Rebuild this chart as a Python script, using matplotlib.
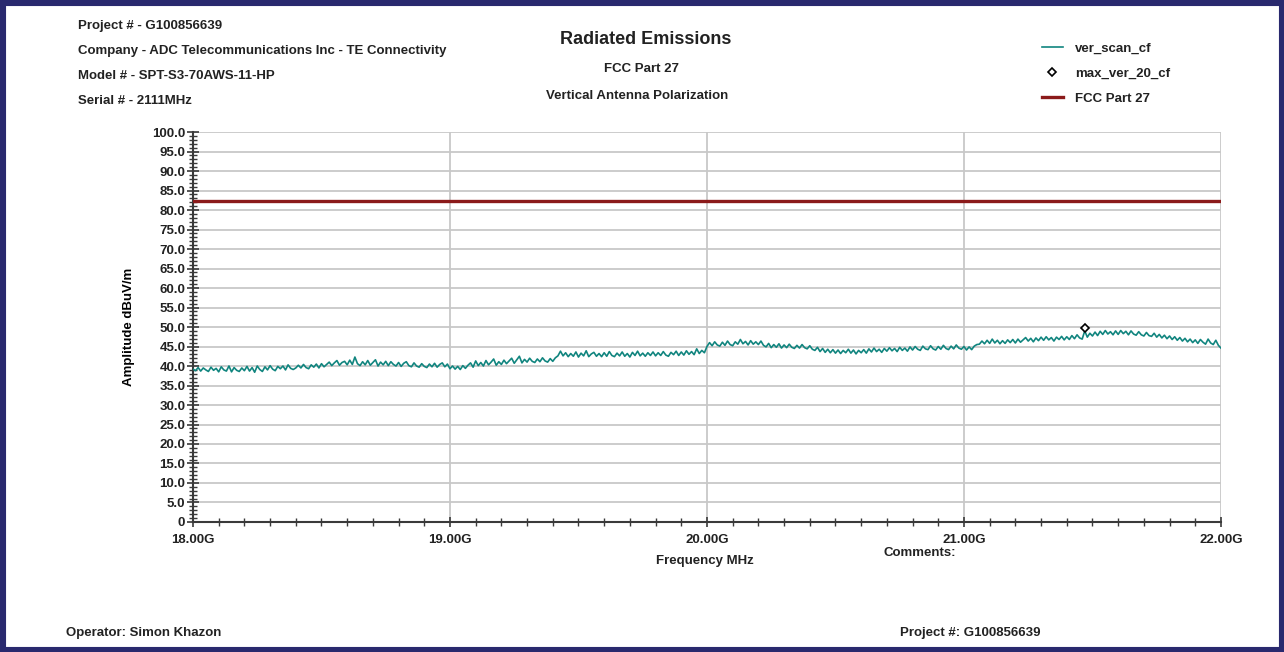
import numpy as np
import matplotlib
matplotlib.use("Agg")
import matplotlib.pyplot as plt
from matplotlib.patches import Rectangle
from matplotlib.ticker import MultipleLocator, FuncFormatter

# sweep 18 - 22 GHz, one reading every 10 MHz
freq_start = 18.0
freq_stop = 22.0

ver_scan_cf = [
    39.2, 38.8, 39.6, 38.7, 39.5, 39.0, 38.6, 39.7, 38.9, 39.4, 38.5, 39.8, 39.0, 38.7, 40.0, 38.5, 39.6, 38.9, 38.6, 39.5,
    38.8, 39.9, 38.7, 39.6, 38.4, 40.0, 39.1, 38.6, 39.8, 39.0, 40.1, 39.2, 38.8, 39.9, 39.3, 40.0, 39.0, 40.3, 39.4, 39.1,
    39.5, 40.2, 39.5, 40.4, 39.6, 39.3, 40.3, 39.7, 40.5, 39.5, 40.6, 39.8, 40.4, 41.0, 40.1, 40.8, 41.4, 40.2, 40.9, 41.2,
    40.3, 41.5, 40.4, 42.3, 40.6, 40.1, 41.1, 40.3, 41.4, 40.2, 40.9, 41.6, 40.0, 41.0, 40.3, 41.2, 40.1, 41.1, 40.4, 40.0,
    40.9, 39.9, 40.7, 41.1, 40.1, 39.8, 40.8, 40.0, 39.7, 40.6, 39.9, 39.6, 40.5, 39.8, 40.7, 39.7, 40.4, 40.8, 39.8, 40.5,
    39.3, 40.0, 39.2, 39.9, 39.1, 40.1, 39.4, 40.2, 40.8, 39.7, 41.3, 40.1, 40.9, 40.0, 41.4, 40.3, 41.0, 41.8, 40.2, 41.1,
    40.4, 41.5, 40.6, 41.3, 42.0, 40.7, 41.6, 42.5, 40.8, 41.7, 41.0, 42.0, 41.2, 40.9, 41.8, 41.1, 42.1, 41.3, 41.0, 41.9,
    41.2, 42.1, 42.6, 43.8, 42.6, 43.4, 42.4, 43.2, 42.5, 43.6, 42.3, 43.3, 42.6, 43.9, 42.4, 43.1, 43.5, 42.5, 43.2, 42.4,
    43.4, 42.5, 43.7, 42.7, 42.4, 43.3, 42.6, 43.6, 42.5, 43.2, 42.3, 43.5, 42.7, 43.8, 42.6, 43.3, 42.5, 43.4, 42.7, 43.6,
    42.6, 43.4, 42.7, 43.7, 42.8, 42.5, 43.5, 42.9, 43.8, 42.7, 43.6, 42.8, 43.9, 43.0, 43.7, 42.9, 44.4, 43.2, 44.0, 43.4,
    45.0, 46.0, 45.2, 46.2, 45.4, 45.1, 46.1, 45.3, 46.4, 45.5, 45.2, 46.2, 45.6, 46.8, 45.7, 46.3, 45.4, 46.5, 45.6, 46.2,
    45.5, 46.4, 45.3, 44.9, 45.8, 44.7, 45.5, 44.8, 45.7, 44.6, 45.4, 44.7, 45.6, 44.8, 44.5, 45.3, 44.6, 45.5, 44.7, 44.4,
    45.2, 44.3, 44.0, 44.8, 43.7, 44.5, 43.5, 44.3, 43.4, 44.2, 43.3, 44.1, 43.2, 44.0, 43.4, 44.3, 43.3, 44.1, 43.1, 44.0,
    43.4, 44.2, 43.3, 44.4, 43.6, 44.6, 43.7, 44.3, 43.5, 44.5, 43.8, 44.7, 43.9, 44.5, 43.7, 44.8, 44.0, 44.6, 43.8, 44.9,
    44.1, 45.0, 44.3, 44.0, 45.1, 44.4, 44.2, 45.2, 44.4, 44.1, 45.0, 44.3, 45.3, 44.5, 44.2, 45.1, 44.4, 45.4, 44.6, 44.3,
    45.0, 44.1, 44.9, 44.2, 45.1, 45.5, 45.6, 46.4, 45.7, 46.6, 45.8, 46.9, 45.9, 46.6, 45.7, 46.5, 45.8, 46.7, 46.0, 46.8,
    45.9, 46.9, 46.1, 46.7, 47.3, 46.4, 47.1, 46.2, 47.2, 46.5, 47.4, 46.6, 47.5, 46.7, 47.3, 46.4, 47.4, 46.8, 47.6, 46.7,
    47.5, 46.8, 47.8, 47.0, 48.0, 47.2, 46.9, 49.0, 47.4, 48.4, 47.7, 48.7, 47.8, 48.9, 48.1, 49.1, 48.2, 48.8, 48.0, 49.0,
    48.1, 49.1, 48.3, 48.9, 48.0, 49.0, 48.2, 47.9, 48.8, 48.0, 47.7, 48.6, 47.8, 47.6, 48.4, 47.4, 48.1, 47.2, 47.9, 47.0,
    47.7, 46.8, 47.5, 46.6, 47.3, 46.4, 47.1, 46.2, 46.9, 46.0, 46.7, 45.8, 46.8, 46.1, 45.6, 46.9, 45.9, 45.5, 46.6, 45.3,
    44.6,
]

max_freq = [21.47]
max_ver_20_cf = [49.8]

fcc_limit = 82.2

header_lines = [
    "Project # - G100856639",
    "Company - ADC Telecommunications Inc - TE Connectivity",
    "Model # - SPT-S3-70AWS-11-HP",
    "Serial # - 2111MHz",
]

freq = np.linspace(freq_start, freq_stop, len(ver_scan_cf))

plt.rcParams["font.family"] = ["Liberation Sans", "DejaVu Sans"]
plt.rcParams["font.weight"] = "bold"

fig = plt.figure(figsize=(12.84, 6.52), dpi=100)
ax = fig.add_axes([0.1503, 0.1994, 0.8006, 0.5981])

teal = "#11857f"
darkred = "#8b1a1a"

ax.plot(freq, ver_scan_cf, color=teal, lw=1.2, label="ver_scan_cf", zorder=3)
ax.plot(max_freq, max_ver_20_cf, ls="none", marker="D", ms=4, mfc="white",
        mec="black", mew=1.2, label="max_ver_20_cf", zorder=4)
ax.axhline(fcc_limit, color=darkred, lw=2.4, label="FCC Part 27", zorder=3)

ax.set_xlim(freq_start, freq_stop)
ax.set_ylim(0, 100)
ax.xaxis.set_major_locator(MultipleLocator(1.0))
ax.xaxis.set_minor_locator(MultipleLocator(0.1))
ax.yaxis.set_major_locator(MultipleLocator(5))
ax.yaxis.set_minor_locator(MultipleLocator(1))
ax.xaxis.set_major_formatter(FuncFormatter(lambda v, p: "%.2fG" % v))
ax.yaxis.set_major_formatter(FuncFormatter(lambda v, p: "0" if v == 0 else "%.1f" % v))

ax.grid(True, which="major", color="#c8c8c8", lw=1.3, zorder=0)
for s in ["top", "right"]:
    ax.spines[s].set_visible(False)
for s in ["left", "bottom"]:
    ax.spines[s].set_color("#3a3a3a")
    ax.spines[s].set_linewidth(1.5)

ax.tick_params(axis="y", which="major", direction="inout", length=9, width=1.2,
               color="#3a3a3a", labelsize=9.5, pad=1)
ax.tick_params(axis="y", which="minor", direction="inout", length=6, width=1.0,
               color="#3a3a3a")
ax.tick_params(axis="x", which="major", direction="inout", length=7, width=1.2,
               color="#3a3a3a", labelsize=9.5, pad=5)
ax.tick_params(axis="x", which="minor", direction="inout", length=6, width=1.0,
               color="#3a3a3a")
for lab in ax.get_xticklabels() + ax.get_yticklabels():
    lab.set_fontweight("bold")
    lab.set_color("#222222")

ax.set_ylabel("Amplitude dBuV/m", fontsize=9.5, fontweight="bold", labelpad=12)
fig.text(705 / 1284, 1 - 561 / 652, "Frequency MHz", ha="center", va="center",
         fontsize=9.5, fontweight="bold", color="#222222")
fig.text(884 / 1284, 1 - 553 / 652, "Comments:", ha="left", va="center",
         fontsize=9.5, fontweight="bold", color="#222222")

# header block
for i, line in enumerate(header_lines):
    fig.text(78 / 1284, 1 - (26 + 25 * i) / 652, line, ha="left", va="center",
             fontsize=9.5, fontweight="bold", color="#222222")

fig.text(646 / 1284, 1 - 40 / 652, "Radiated Emissions", ha="center", va="center",
         fontsize=13, fontweight="bold", color="#222222")
fig.text(642 / 1284, 1 - 69 / 652, "FCC Part 27", ha="center", va="center",
         fontsize=9.5, fontweight="bold", color="#222222")
fig.text(637 / 1284, 1 - 96 / 652, "Vertical Antenna Polarization", ha="center",
         va="center", fontsize=9.5, fontweight="bold", color="#222222")

fig.text(66 / 1284, 1 - 633 / 652, "Operator: Simon Khazon", ha="left", va="center",
         fontsize=9.5, fontweight="bold", color="#222222")
fig.text(900 / 1284, 1 - 633 / 652, "Project #: G100856639", ha="left", va="center",
         fontsize=9.5, fontweight="bold", color="#222222")

leg = fig.legend(loc="upper left", bbox_to_anchor=(1030 / 1284, 1 - 31 / 652),
                 frameon=False, fontsize=9.5, handlelength=1.6, labelspacing=0.95,
                 handletextpad=0.9)
for t in leg.get_texts():
    t.set_fontweight("bold")
    t.set_color("#222222")

fig.patches.append(Rectangle((0, 0), 1, 1, transform=fig.transFigure, fill=False,
                             edgecolor="#29296e", lw=8, zorder=10))

fig.savefig("out.png", dpi=100)
